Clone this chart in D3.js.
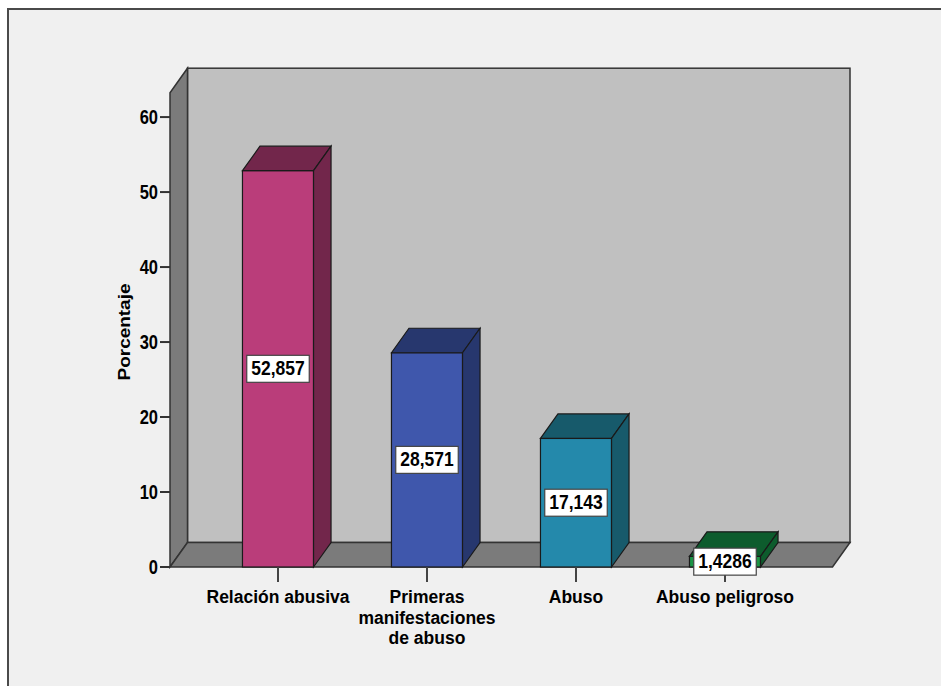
<!DOCTYPE html>
<html>
<head>
<meta charset="utf-8">
<script src="https://cdn.jsdelivr.net/npm/d3@7"></script>
<style>
  body { margin: 0; background: #ffffff; }
  text { font-family: "Liberation Sans", Arial, sans-serif; font-weight: bold; fill: #000; }
</style>
</head>
<body>
<figure id="chart" style="margin:0"></figure>
<script>
// data
const categories = ["Relación abusiva", "Primeras manifestaciones de abuso", "Abuso", "Abuso peligroso"];
const labelLines = [["Relación abusiva"], ["Primeras", "manifestaciones", "de abuso"], ["Abuso"], ["Abuso peligroso"]];
const percentages = [52.857, 28.571, 17.143, 1.4286];
const yTicks = [0, 10, 20, 30, 40, 50, 60];
const yLabel = "Porcentaje";

const frontColors = ["#BA3D7A", "#3F57AC", "#2489AB", "#1B9445"];
const darkColors = ["#72264B", "#27376E", "#175A6B", "#0D5C2D"];

const width = 941, height = 686;
const depthX = 17.5, depthY = 24.5;
const stretch = 1.15; // text in the original is drawn a bit taller than wide

const svg = d3.select("#chart").append("svg")
  .attr("width", width)
  .attr("height", height);

// outer frame
svg.append("rect")
  .attr("x", 8).attr("y", 9)
  .attr("width", 980).attr("height", 720)
  .attr("fill", "#f0f0f0")
  .attr("stroke", "#4a4a4a")
  .attr("stroke-width", 2);

const y = d3.scaleLinear().domain([0, 63.25]).range([567, 92.7]);
const x = d3.scaleBand()
  .domain(categories)
  .range([203.5, 799.5])
  .paddingInner(0.523)
  .paddingOuter(0.2615);

const left = 170, right = 832.5;
const y0 = y(0), yTop = y.range()[1];

const pts = a => a.map(p => p.join(",")).join(" ");

// back wall
svg.append("rect")
  .attr("x", left + depthX).attr("y", yTop - depthY)
  .attr("width", right - left).attr("height", y0 - yTop)
  .attr("fill", "#c0c0c0")
  .attr("stroke", "#333").attr("stroke-width", 1.5);

// left wall
svg.append("polygon")
  .attr("points", pts([[left, y0], [left, yTop], [left + depthX, yTop - depthY], [left + depthX, y0 - depthY]]))
  .attr("fill", "#7b7b7b")
  .attr("stroke", "#333").attr("stroke-width", 1.5);

// floor
svg.append("polygon")
  .attr("points", pts([[left, y0], [left + depthX, y0 - depthY], [right + depthX, y0 - depthY], [right, y0]]))
  .attr("fill", "#7b7b7b")
  .attr("stroke", "#333").attr("stroke-width", 1.5);

// y axis ticks
const yAxis = svg.append("g");
yAxis.selectAll("line")
  .data(yTicks).enter().append("line")
  .attr("x1", left - 10).attr("x2", left)
  .attr("y1", d => y(d)).attr("y2", d => y(d))
  .attr("stroke", "#333").attr("stroke-width", 2);
yAxis.selectAll("text")
  .data(yTicks).enter().append("text")
  .attr("transform", d => `translate(${left - 12},${y(d)}) scale(1,1.22)`)
  .attr("y", 5.7)
  .attr("text-anchor", "end")
  .style("font-size", "16.5px")
  .text(d => d);

// y axis title
svg.append("text")
  .attr("transform", `translate(130,332) scale(1,${stretch}) rotate(-90)`)
  .attr("text-anchor", "middle")
  .style("font-size", "16.5px")
  .text(yLabel);

// bars
const bars = svg.append("g").selectAll("g")
  .data(categories).enter().append("g");

bars.each(function (c, i) {
  const g = d3.select(this);
  const x0 = x(c), x1 = x(c) + x.bandwidth();
  const yt = y(percentages[i]);
  g.append("rect")
    .attr("x", x0).attr("y", yt)
    .attr("width", x1 - x0).attr("height", y0 - yt)
    .attr("fill", frontColors[i])
    .attr("stroke", "#1a1a1a").attr("stroke-width", 1.2);
  g.append("polygon")
    .attr("points", pts([[x0, yt], [x0 + depthX, yt - depthY], [x1 + depthX, yt - depthY], [x1, yt]]))
    .attr("fill", darkColors[i])
    .attr("stroke", "#1a1a1a").attr("stroke-width", 1.2);
  g.append("polygon")
    .attr("points", pts([[x1, yt], [x1 + depthX, yt - depthY], [x1 + depthX, y0 - depthY], [x1, y0]]))
    .attr("fill", darkColors[i])
    .attr("stroke", "#1a1a1a").attr("stroke-width", 1.2);
});

// x ticks and labels
const xAxis = svg.append("g");
xAxis.selectAll("line")
  .data(categories).enter().append("line")
  .attr("x1", d => x(d) + x.bandwidth() / 2).attr("x2", d => x(d) + x.bandwidth() / 2)
  .attr("y1", y0).attr("y2", y0 + 15)
  .attr("stroke", "#444").attr("stroke-width", 2);

categories.forEach((c, i) => {
  const cx = x(c) + x.bandwidth() / 2;
  labelLines[i].forEach((line, j) => {
    xAxis.append("text")
      .attr("x", cx)
      .attr("y", 603 + j * 20.5)
      .attr("text-anchor", "middle")
      .style("font-size", "17.5px")
      .text(line);
  });
});

// value labels
const comma = d3.formatLocale({ decimal: ",", thousands: ".", grouping: [3], currency: ["", ""] });
const fmt = comma.format(".5");

categories.forEach((c, i) => {
  const cx = x(c) + x.bandwidth() / 2;
  const cy = (y0 + y(percentages[i])) / 2;
  const g = svg.append("g").attr("transform", `translate(${cx},${cy})`);
  const rect = g.append("rect");
  const t = g.append("text")
    .attr("transform", `scale(1,${stretch})`)
    .attr("y", 5.7)
    .attr("text-anchor", "middle")
    .style("font-size", "17.5px")
    .text(fmt(percentages[i]));
  const w = t.node().getComputedTextLength() + 9;
  rect.attr("x", -w / 2).attr("y", -13.5)
    .attr("width", w).attr("height", 27)
    .attr("fill", "#fff")
    .attr("stroke", "#444").attr("stroke-width", 1.2);
});
</script>
</body>
</html>
